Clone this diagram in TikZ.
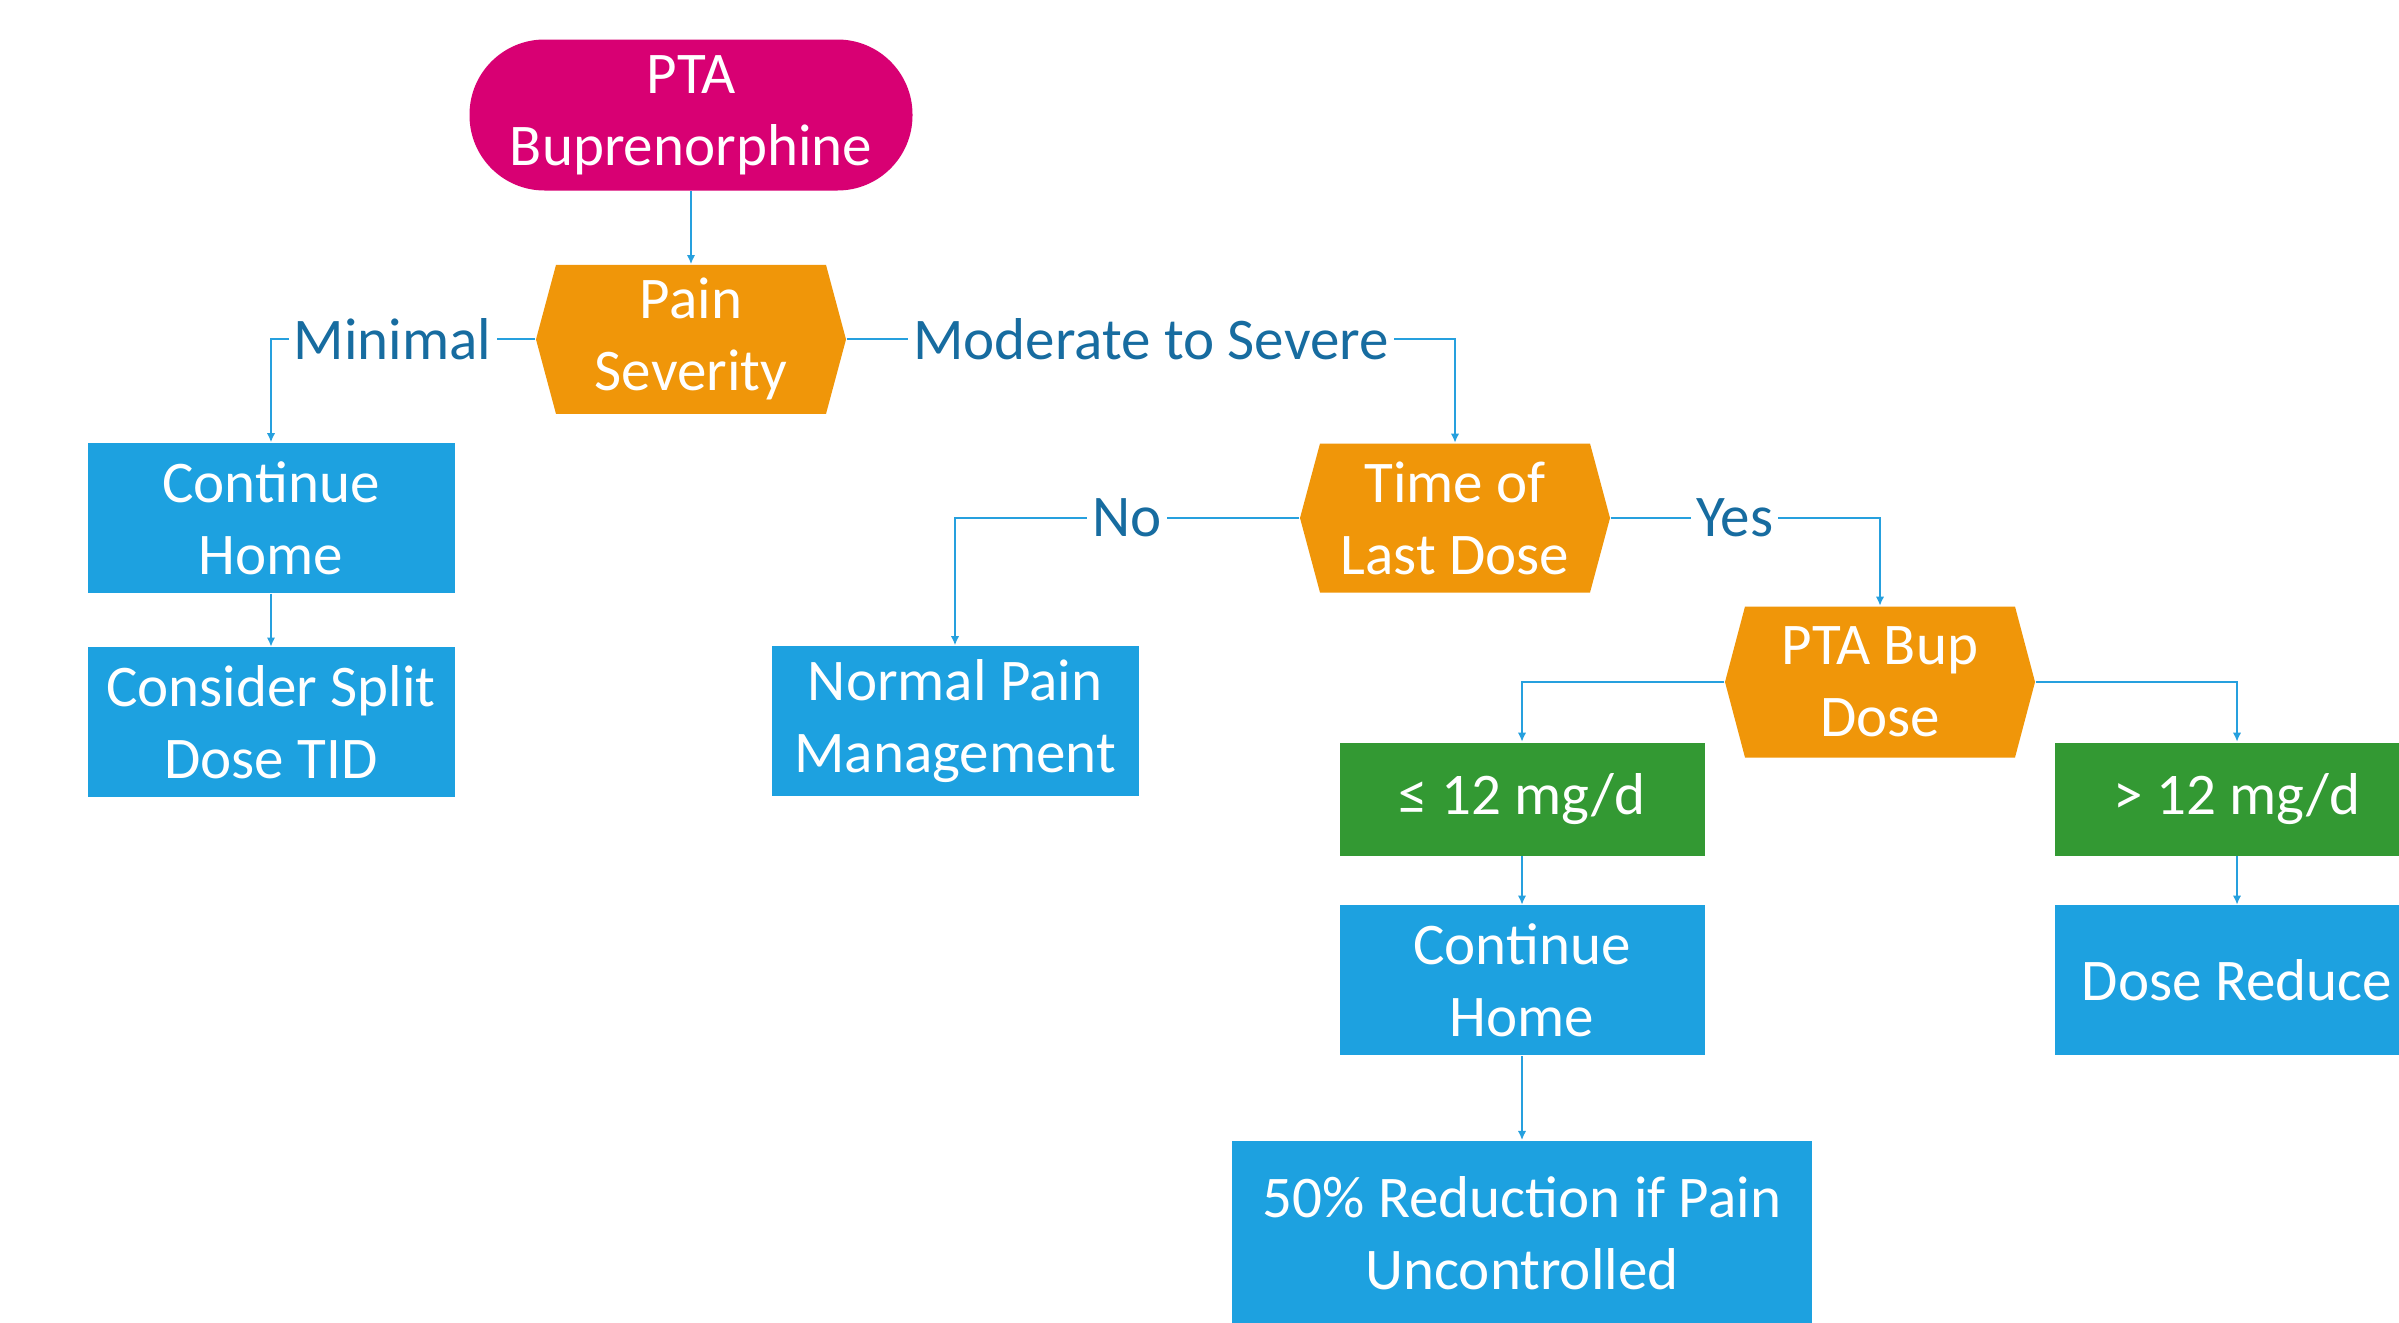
\documentclass[tikz,border=0pt]{standalone}
\usepackage{fontspec}
\setmainfont{Carlito}
\definecolor{startpink}{RGB}{216,0,115}
\definecolor{decorange}{RGB}{240,150,9}
\definecolor{actblue}{RGB}{29,161,224}
\definecolor{dosegreen}{RGB}{51,153,51}
\definecolor{linkblue}{RGB}{38,160,222}
\definecolor{lbltext}{RGB}{23,108,160}
\usetikzlibrary{arrows.meta, positioning}

\begin{document}
\begin{tikzpicture}[
        txt/.style={font=\fontsize{16.8}{20.5}\selectfont},
        startbox/.style={rectangle, fill=startpink, text=white, rounded corners=7.5mm,
                         minimum width=4.43cm, minimum height=1.51cm, align=center, txt},
        decision/.style={rectangle, text=white, minimum width=3.1cm, minimum height=1.49cm,
                         align=center, inner sep=0pt, txt,
                         path picture={\fill[decorange] (path picture bounding box.west)
                            -- ([xshift=2mm]path picture bounding box.north west)
                            -- ([xshift=-2mm]path picture bounding box.north east)
                            -- (path picture bounding box.east)
                            -- ([xshift=-2mm]path picture bounding box.south east)
                            -- ([xshift=2mm]path picture bounding box.south west) -- cycle;}},
        action/.style={rectangle, fill=actblue, text=white, minimum width=3.67cm,
                       minimum height=1.5cm, align=center, inner sep=0pt, txt},
        dose/.style={rectangle, fill=dosegreen, text=white, minimum width=3.65cm,
                     minimum height=1.13cm, align=center, inner sep=0pt, txt},
        link/.style={-{Latex[length=2.6pt,width=2.4pt]}, line width=0.6pt, linkblue},
        lbl/.style={fill=white, inner sep=1.5pt, text=lbltext, txt}
    ]
        \path[use as bounding box, fill=white] (0,0) rectangle (23.99,-13.22);
        \clip (0,0) rectangle (23.99,-13.22);

        % top
        \node[startbox] (start) at (6.91,-1.15) {PTA\\Buprenorphine};
        \node[decision, below=0.73cm of start] (pain) {Pain\\Severity};

        % minimal branch
        \node[action] (home1) at (2.71,-5.18) {Continue\\Home};
        \node[action, below=0.53cm of home1] (split) {Consider Split\\Dose TID};

        % moderate to severe branch
        \node[decision] (lastdose) at (14.55,-5.18) {Time of\\Last Dose};
        \node[action] (normal) at (9.55,-7.21) {Normal Pain\\Management};
        \node[decision, minimum height=1.51cm] (bupdose) at (18.80,-6.82) {PTA Bup\\Dose};

        % dose levels
        \node[dose] (low) at (15.22,-7.99) {≤ 12 mg/d};
        \node[action, minimum width=3.65cm, below=0.485cm of low] (home2) {Continue\\Home};
        \node[action, minimum width=5.8cm, minimum height=1.84cm, below=0.84cm of home2] (halve) {50\% Reduction if Pain\\Uncontrolled};
        \node[dose] (high) at (22.37,-7.99) {> 12 mg/d};
        \node[action, minimum width=3.65cm, below=0.485cm of high] (reduce) {Dose Reduce};

        \draw[link] (start) -- (pain);
        \draw[link] (pain.west) -| node[lbl, pos=0.27] {Minimal} (home1.north);
        \draw[link] (home1) -- (split);
        \draw[link] (pain.east) -| node[lbl, pos=0.25] {Moderate to Severe} (lastdose.north);
        \draw[link] (lastdose.west) -| node[lbl, pos=0.25] {No} (normal.north);
        \draw[link] (lastdose.east) -| node[lbl, pos=0.23] {Yes} (bupdose.north);
        \draw[link] (bupdose.west) -| (low.north);
        \draw[link] (bupdose.east) -| (high.north);
        \draw[link] (low) -- (home2);
        \draw[link] (home2) -- (halve);
        \draw[link] (high) -- (reduce);
    \end{tikzpicture}
\end{document}
